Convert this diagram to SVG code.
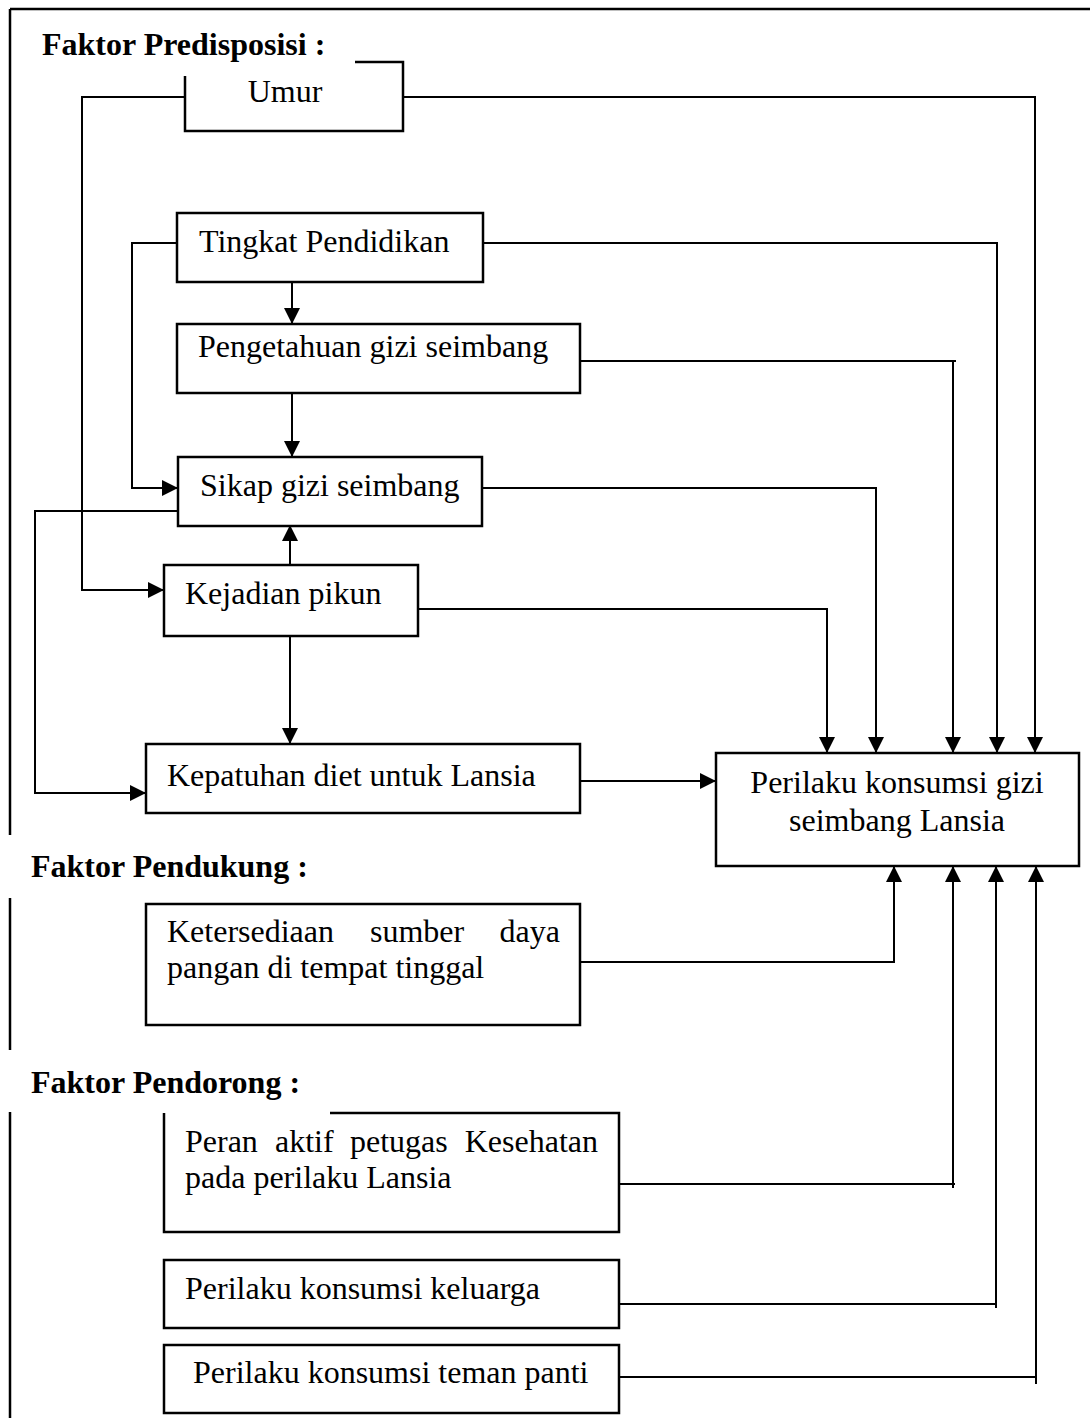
<svg xmlns="http://www.w3.org/2000/svg" width="1090" height="1418" viewBox="0 0 1090 1418">
<style>
.box{fill:none;stroke:#000;stroke-width:2.5}
.frame{fill:none;stroke:#000;stroke-width:2.5}
.c{fill:none;stroke:#000;stroke-width:2}
.t{font-family:"Liberation Serif","Times New Roman",serif;font-size:32px;fill:#000}
.h{font-family:"Liberation Serif","Times New Roman",serif;font-size:32px;font-weight:bold;fill:#000}
</style>
<defs>
<marker id="arr" markerUnits="userSpaceOnUse" markerWidth="16" markerHeight="16" refX="16" refY="8" orient="auto" viewBox="0 0 16 16">
<path d="M0,0 L16,8 L0,16 z" fill="#000"/>
</marker>
</defs>
<rect width="1090" height="1418" fill="#fff"/>
<g id="frame">
<path class="frame" d="M10,9 H1090 M10,9 V835 M10,898 V1050 M10,1112 V1418"/>
</g>
<g id="headings">
<text class="h" x="42" y="55">Faktor Predisposisi :</text>
<text class="h" x="31" y="877">Faktor Pendukung :</text>
<text class="h" x="31" y="1093">Faktor Pendorong :</text>
</g>
<g id="connectors">
<path class="c" d="M185,97 H82 V590 H164" marker-end="url(#arr)"/>
<path class="c" d="M403,97 H1035 V753" marker-end="url(#arr)"/>
<path class="c" d="M482,243 H997 V753" marker-end="url(#arr)"/>
<path class="c" d="M177,243 H132 V488 H178" marker-end="url(#arr)"/>
<path class="c" d="M292,281 V324" marker-end="url(#arr)"/>
<path class="c" d="M580,361 H956 M953,361 V753" marker-end="url(#arr)"/>
<path class="c" d="M292,393 V457" marker-end="url(#arr)"/>
<path class="c" d="M482,488 H876 V753" marker-end="url(#arr)"/>
<path class="c" d="M178,511 H35 V793 H146" marker-end="url(#arr)"/>
<path class="c" d="M290,565 V525" marker-end="url(#arr)"/>
<path class="c" d="M418,609 H827 V753" marker-end="url(#arr)"/>
<path class="c" d="M290,636 V744" marker-end="url(#arr)"/>
<path class="c" d="M580,781 H716" marker-end="url(#arr)"/>
<path class="c" d="M580,962 H894 V866" marker-end="url(#arr)"/>
<path class="c" d="M619,1184 H955 M953,1188 V866" marker-end="url(#arr)"/>
<path class="c" d="M619,1304 H996 M996,1308 V866" marker-end="url(#arr)"/>
<path class="c" d="M619,1377 H1036 M1036,1384 V866" marker-end="url(#arr)"/>
</g>
<g id="umur">
<path class="box" d="M355,62 H403 V131 H185 V76"/>
<text class="t" x="285" y="102" text-anchor="middle">Umur</text>
</g>
<g id="tingkat-pendidikan">
<rect class="box" x="177" y="213" width="306" height="69"/>
<text class="t" x="199" y="252">Tingkat Pendidikan</text>
</g>
<g id="pengetahuan">
<rect class="box" x="177" y="324" width="403" height="69"/>
<text class="t" x="198" y="357">Pengetahuan gizi seimbang</text>
</g>
<g id="sikap">
<rect class="box" x="178" y="457" width="304" height="69"/>
<text class="t" x="200" y="496">Sikap gizi seimbang</text>
</g>
<g id="kejadian-pikun">
<rect class="box" x="164" y="565" width="254" height="71"/>
<text class="t" x="185" y="604">Kejadian pikun</text>
</g>
<g id="kepatuhan">
<rect class="box" x="146" y="744" width="434" height="69"/>
<text class="t" x="167" y="786">Kepatuhan diet untuk Lansia</text>
</g>
<g id="perilaku-lansia">
<rect class="box" x="716" y="753" width="363" height="113"/>
<text class="t" x="897" y="793" text-anchor="middle">Perilaku konsumsi gizi</text>
<text class="t" x="897" y="831" text-anchor="middle">seimbang Lansia</text>
</g>
<g id="ketersediaan">
<rect class="box" x="146" y="904" width="434" height="121"/>
<text class="t" y="942"><tspan x="167">Ketersediaan</tspan><tspan x="370">sumber</tspan><tspan x="560" text-anchor="end">daya</tspan></text>
<text class="t" x="167" y="978">pangan di tempat tinggal</text>
</g>
<g id="peran-aktif">
<path class="box" d="M330,1113 H619 V1232 H164 V1113"/>
<text class="t" y="1152"><tspan x="185">Peran</tspan><tspan x="275">aktif</tspan><tspan x="350">petugas</tspan><tspan x="598" text-anchor="end">Kesehatan</tspan></text>
<text class="t" x="185" y="1188">pada perilaku Lansia</text>
</g>
<g id="keluarga">
<rect class="box" x="164" y="1260" width="455" height="68"/>
<text class="t" x="185" y="1299">Perilaku konsumsi keluarga</text>
</g>
<g id="teman-panti">
<rect class="box" x="164" y="1345" width="455" height="68"/>
<text class="t" x="193" y="1383">Perilaku konsumsi teman panti</text>
</g>
</svg>
